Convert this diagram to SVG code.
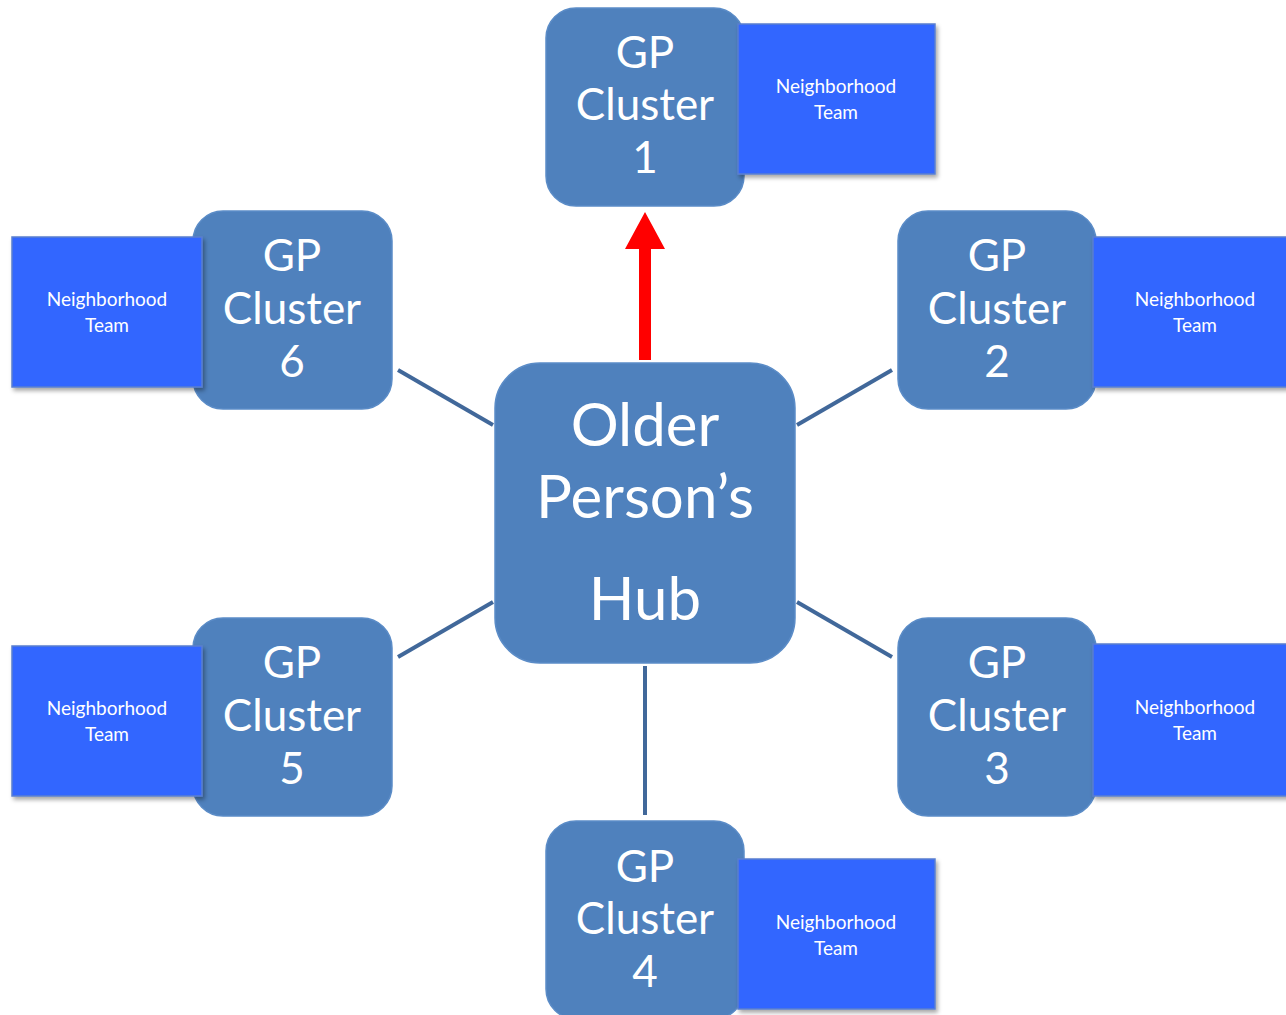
<svg xmlns="http://www.w3.org/2000/svg" width="1286" height="1015" viewBox="0 0 1286 1015">
<style>
.gp{fill:#4F81BD;stroke:#5b8cc7;stroke-width:1.5}
.nt{fill:#3366FF;stroke:#5a7fd0;stroke-width:1.5;filter:url(#sh)}
.gpt{font-family:Lato,"Open Sans",sans-serif;font-size:44px;fill:#fff;text-anchor:middle}
.ntt{font-family:Lato,"Open Sans",sans-serif;font-size:19px;fill:#fff;text-anchor:middle}
.hubt{font-family:Lato,"Open Sans",sans-serif;font-size:60px;fill:#fff;text-anchor:middle}
.con{stroke:#41689A;stroke-width:4;fill:none}
</style>
<defs>
<filter id="sh" x="-10%" y="-10%" width="130%" height="130%">
<feDropShadow dx="2" dy="3" stdDeviation="2" flood-color="#000" flood-opacity="0.35"/>
</filter>
</defs>
<rect width="1286" height="1015" fill="#fff"/>
<g id="connectors">
<line class="con" x1="493" y1="425" x2="398" y2="370"/>
<line class="con" x1="797" y1="425" x2="892" y2="370"/>
<line class="con" x1="493" y1="602" x2="398" y2="657"/>
<line class="con" x1="797" y1="602" x2="892" y2="657"/>
<line class="con" x1="645" y1="666" x2="645" y2="815"/>
<polygon points="639,360 651,360 651,249 665,249 645,212 625,249 639,249" fill="#FF0000"/>
</g>
<g id="hub">
<rect class="gp" x="495" y="363" width="300" height="300" rx="45"/>
<text class="hubt" x="645" y="446">Older</text>
<text class="hubt" x="645" y="518">Person’s</text>
<text class="hubt" x="645" y="620">Hub</text>
</g>
<g id="cluster1">
<rect class="gp" x="546" y="8" width="198" height="198" rx="30"/>
<text class="gpt" x="645" y="68">GP</text>
<text class="gpt" x="645" y="120">Cluster</text>
<text class="gpt" x="645" y="173">1</text>
</g>
<g id="team1">
<rect class="nt" x="738" y="24" width="197" height="150"/>
<text class="ntt" x="836" y="93">Neighborhood</text>
<text class="ntt" x="836" y="119">Team</text>
</g>
<g id="cluster2">
<rect class="gp" x="898" y="211" width="198" height="198" rx="30"/>
<text class="gpt" x="997" y="271">GP</text>
<text class="gpt" x="997" y="324">Cluster</text>
<text class="gpt" x="997" y="377">2</text>
</g>
<g id="team2">
<rect class="nt" x="1093" y="237" width="197" height="150"/>
<text class="ntt" x="1195" y="306">Neighborhood</text>
<text class="ntt" x="1195" y="332">Team</text>
</g>
<g id="cluster3">
<rect class="gp" x="898" y="618" width="198" height="198" rx="30"/>
<text class="gpt" x="997" y="678">GP</text>
<text class="gpt" x="997" y="731">Cluster</text>
<text class="gpt" x="997" y="784">3</text>
</g>
<g id="team3">
<rect class="nt" x="1093" y="644" width="197" height="152"/>
<text class="ntt" x="1195" y="714">Neighborhood</text>
<text class="ntt" x="1195" y="740">Team</text>
</g>
<g id="cluster4">
<rect class="gp" x="546" y="821" width="198" height="198" rx="30"/>
<text class="gpt" x="645" y="882">GP</text>
<text class="gpt" x="645" y="934">Cluster</text>
<text class="gpt" x="645" y="987">4</text>
</g>
<g id="team4">
<rect class="nt" x="738" y="859" width="197" height="150"/>
<text class="ntt" x="836" y="929">Neighborhood</text>
<text class="ntt" x="836" y="955">Team</text>
</g>
<g id="cluster5">
<rect class="gp" x="193" y="618" width="199" height="198" rx="30"/>
<text class="gpt" x="292" y="678">GP</text>
<text class="gpt" x="292" y="731">Cluster</text>
<text class="gpt" x="292" y="784">5</text>
</g>
<g id="team5">
<rect class="nt" x="12" y="646" width="190" height="150"/>
<text class="ntt" x="107" y="715">Neighborhood</text>
<text class="ntt" x="107" y="741">Team</text>
</g>
<g id="cluster6">
<rect class="gp" x="193" y="211" width="199" height="198" rx="30"/>
<text class="gpt" x="292" y="271">GP</text>
<text class="gpt" x="292" y="324">Cluster</text>
<text class="gpt" x="292" y="377">6</text>
</g>
<g id="team6">
<rect class="nt" x="12" y="237" width="190" height="150"/>
<text class="ntt" x="107" y="306">Neighborhood</text>
<text class="ntt" x="107" y="332">Team</text>
</g>
</svg>
